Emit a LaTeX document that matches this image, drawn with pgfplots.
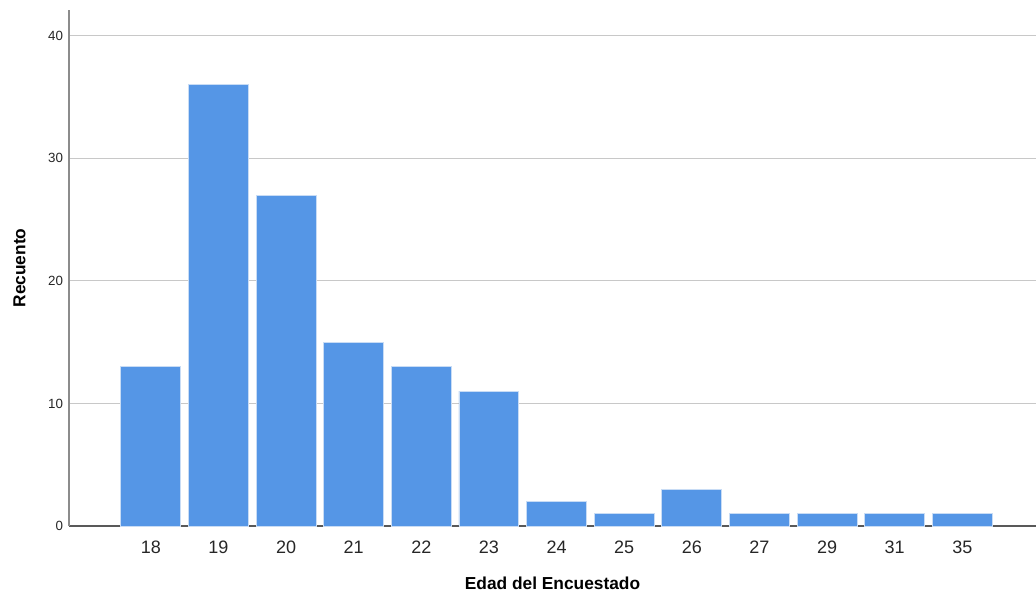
\documentclass[border=0pt]{standalone}
\usepackage{pgfplots}
\pgfplotsset{compat=1.18}
\usepackage{fontspec}
\setmainfont{Liberation Sans}
\definecolor{barblue}{RGB}{85,150,230}
\definecolor{baredge}{RGB}{200,220,245}
\definecolor{gridgrey}{RGB}{200,200,200}
\begin{document}
\begin{tikzpicture}
\begin{axis}[
  scale only axis,
  width=725.25pt, height=387pt,
  xmin=-1.21, xmax=13.09,
  ymin=0, ymax=42.1,
  axis lines=left,
  axis line style={-},
  x axis line style={draw=black!65, line width=0.9pt},
  y axis line style={draw=black!45, line width=1.2pt},
  xtick={0,...,12},
  xticklabels={18,19,20,21,22,23,24,25,26,27,29,31,35},
  ytick={0,10,20,30,40},
  major tick length=0pt,
  ymajorgrids,
  grid style={draw=gridgrey, line width=0.9pt},
  /pgf/number format/assume math mode=true,
  xticklabel style={font=\fontsize{13.5}{15}\selectfont, color=black!85, yshift=-8pt},
  yticklabel style={font=\fontsize{10}{12}\selectfont, color=black!85, xshift=-1pt},
  xlabel={\textbf{Edad del Encuestado}},
  ylabel={\textbf{Recuento}},
  xlabel style={font=\fontsize{13}{15}\selectfont, yshift=-10pt},
  ylabel style={font=\fontsize{13}{15}\selectfont, yshift=10pt},
  clip=false,
]
\addplot[ybar, bar width=0.886, fill=barblue, draw=baredge, line width=0.6pt]
  coordinates {(0,13) (1,36) (2,27) (3,15) (4,13) (5,11) (6,2) (7,1) (8,3) (9,1) (10,1) (11,1) (12,1)};
\end{axis}
\pgfresetboundingbox
\path[use as bounding box] (-51.75pt,-53.25pt) rectangle (725.25pt,394.5pt);
\end{tikzpicture}
\end{document}
